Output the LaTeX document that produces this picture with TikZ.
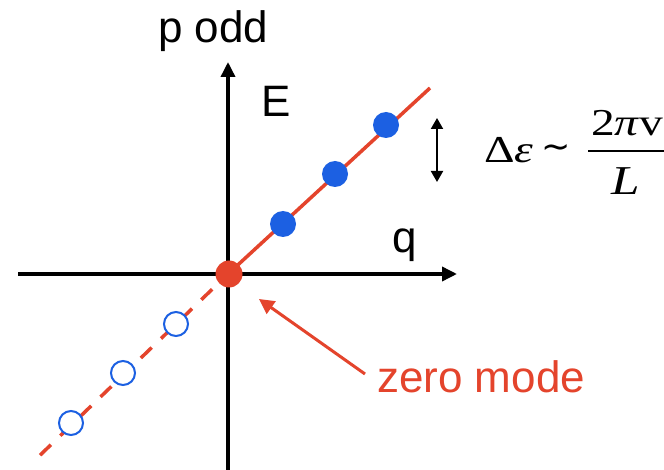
\documentclass[tikz,border=0pt]{standalone}
\usepackage{fontspec}
\setmainfont{Liberation Sans}
\newfontfamily\lserif[FakeStretch=1.25]{Liberation Serif}
\newfontfamily\dvsans{DejaVu Sans}
\usetikzlibrary{arrows.meta}
\definecolor{zred}{RGB}{228,68,44}
\definecolor{zblue}{RGB}{28,96,226}
\begin{document}
\begin{tikzpicture}[x=1pt,y=-1pt,
  axis/.style={line width=3.5pt,-{Triangle[length=15pt,width=14pt]}},
  redline/.style={zred,line width=3.5pt},
  fdot/.style={circle,fill=zblue,inner sep=0pt,minimum size=26pt},
  odot/.style={circle,draw=zblue,fill=white,line width=2pt,inner sep=0pt,minimum size=24pt},
  zdot/.style={circle,fill=zred,inner sep=0pt,minimum size=27pt},
  lab/.style={inner sep=0pt,font=\fontsize{44}{44}\selectfont},
  serif/.style={inner sep=0pt,font=\lserif\fontsize{38}{38}\selectfont},
  dbl/.style={line width=2pt,{Triangle[length=11pt,width=12pt]}-{Triangle[length=11pt,width=12pt]}},
  zarrow/.style={zred,line width=3pt,-{Triangle[length=15pt,width=15pt]}}]
\useasboundingbox (0,0) rectangle (664,470);
\fill[white] (0,0) rectangle (664,470);
% axes
\coordinate (xl) at (18,274);
\coordinate (xr) at (457,274);
\coordinate (yb) at (228,475);
\coordinate (yt) at (228,62);
\draw[axis] (xl) -- (xr);
\draw[axis] (yb) -- (yt);
% dispersion line
\coordinate (o) at (228,274);
\coordinate (lu) at (430,88);
\coordinate (ld) at (33,462);
\draw[redline] (o) -- (lu);
\draw[redline,dash pattern=on 15pt off 13pt,dash phase=6pt] (o) -- (ld);
% occupied states
\node[fdot] (f1) at (283,224) {};
\node[fdot] (f2) at (335,174) {};
\node[fdot] (f3) at (386,125) {};
% empty states
\node[odot] (e1) at (176,324) {};
\node[odot] (e2) at (123,373) {};
\node[odot] (e3) at (71,423) {};
% zero mode
\node[zdot] (z) at (229,274) {};
% labels
\node[lab,anchor=base west] (podd) at (158,43) {p odd};
\node[lab,anchor=base west] (E) at (261,117) {E};
\node[lab,anchor=base west] (q) at (392,253) {q};
\node[lab,anchor=base west,text=zred] (zm) at (377,392) {zero mode};
% arrows
\coordinate (dt) at (437,118);
\coordinate (db) at (437,182);
\draw[dbl] (dt) -- (db);
\coordinate (zt) at (365,374);
\coordinate (zh) at (259,299);
\draw[zarrow] (zt) -- (zh);
% formula
\node[serif,anchor=base west] (de) at (484,163) {Δ\textit{ε}};
\node[inner sep=0pt,font=\dvsans\fontsize{35}{35}\selectfont] (sim) at (556,152) {∼};
\node[serif,anchor=base west] (num) at (591,136) {2\textit{π}v};
\coordinate (barl) at (588,151);
\coordinate (barr) at (720,151);
\draw[line width=2.5pt] (barl) -- (barr);
\node[serif,anchor=base west,font=\lserif\fontsize{41}{41}\selectfont] (den) at (611,195) {\textit{L}};
\end{tikzpicture}
\end{document}
